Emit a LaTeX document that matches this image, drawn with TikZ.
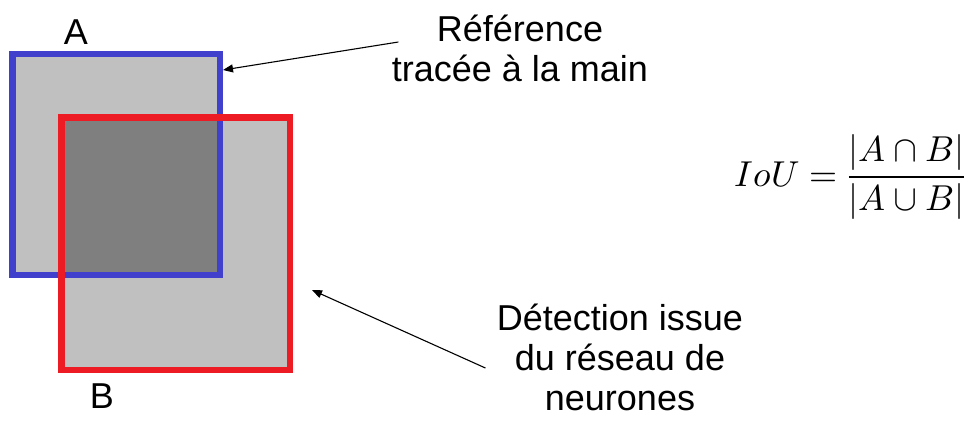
\documentclass[tikz,border=0pt]{standalone}
\usepackage{amsmath}
\usepackage{fontspec}
\usepackage{unicode-math}
\setmainfont{Liberation Sans}
\setmathfont{Latin Modern Math}
\usetikzlibrary{positioning, arrows.meta}
\definecolor{boxblue}{RGB}{64,64,204}
\definecolor{boxred}{RGB}{237,28,36}
\definecolor{lightfill}{RGB}{192,192,192}
\definecolor{darkfill}{RGB}{127,127,127}

\begin{document}
\begin{tikzpicture}[x=1pt, y=-1pt,
    box/.style={fill=lightfill, outer sep=0pt, inner sep=0pt},
    frame/.style={line width=6.5pt},
    lbl/.style={font=\fontsize{36}{40}\selectfont, align=center},
    ptr/.style={-{Triangle[length=10pt, width=8pt]}, line width=1.1pt}]
    \useasboundingbox (0,0) rectangle (970,421);

    % boxes
    \node[box, minimum width=207.5pt, minimum height=221pt] (a) at (116.25,164.5) {};
    \node[box, minimum width=228.5pt, minimum height=252.5pt] (b) at (175.75,243.75) {};
    \fill[darkfill] (b.north west) rectangle (a.south east);
    \draw[frame, boxblue] (a.north west) rectangle (a.south east);
    \draw[frame, boxred] (b.north west) rectangle (b.south east);

    \node[lbl] (la) at (76,32) {A};
    \node[lbl] (lb) at (102,396) {B};

    % texts
    \node[lbl] (ref) at (520,48) {Référence\\tracée à la main};
    \node[lbl] (det) at (620,357) {Détection issue\\du réseau de\\neurones};
    \node[font=\fontsize{36}{40}\selectfont, anchor=base] (iou) at (850,186)
        {$\displaystyle IoU = \frac{|A\cap B|}{|A\cup B|}$};

    \coordinate (tipa) at (223,70);
    \coordinate (tipb) at (312,290);
    \draw[ptr] ([shift={(10,-6)}]ref.west) -- (tipa);
    \draw[ptr] ([shift={(-8,11)}]det.west) -- (tipb);
\end{tikzpicture}
\end{document}
